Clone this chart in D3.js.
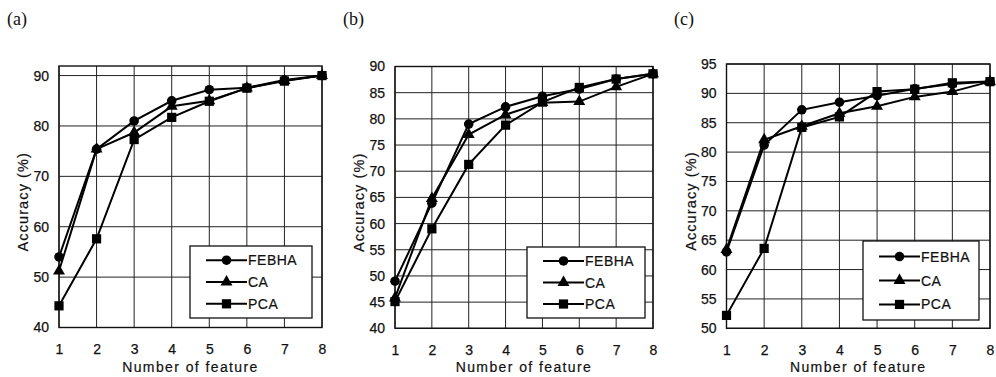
<!DOCTYPE html>
<html>
<head>
<meta charset="utf-8">
<script src="https://cdn.jsdelivr.net/npm/d3@7/dist/d3.min.js"></script>
<style>
  body { margin: 0; background: #fff; }
  svg { display: block; }
  text { font-family: "Liberation Sans", Arial, sans-serif; fill: #111; }
</style>
</head>
<body>
<svg id="chart" width="996" height="377"></svg>
<script>
const features = [1, 2, 3, 4, 5, 6, 7, 8];
const seriesNames = ['FEBHA', 'CA', 'PCA'];

// (a)
const febhaA = [54.0, 75.4, 81.0, 85.0, 87.2, 87.6, 89.1, 90.0];
const caA = [51.2, 75.4, 78.7, 83.9, 85.0, 87.5, 89.0, 90.0];
const pcaA = [44.3, 57.6, 77.3, 81.7, 84.9, 87.5, 88.9, 90.0];
const ticksA = [40, 50, 60, 70, 80, 90];

// (b)
const febhaB = [49.0, 63.9, 79.0, 82.3, 84.3, 85.7, 87.6, 88.6];
const caB = [45.8, 64.8, 77.0, 80.8, 83.1, 83.3, 86.1, 88.6];
const pcaB = [45.1, 59.0, 71.3, 78.8, 83.2, 86.0, 87.6, 88.6];
const ticksB = [40, 45, 50, 55, 60, 65, 70, 75, 80, 85, 90];

// (c)
const febhaC = [63.0, 81.2, 87.2, 88.5, 89.6, 90.8, 91.6, 92.0];
const caC = [63.4, 82.1, 84.4, 86.6, 87.8, 89.4, 90.3, 92.0];
const pcaC = [52.2, 63.6, 84.2, 86.0, 90.3, 90.7, 91.8, 92.0];
const ticksC = [50, 55, 60, 65, 70, 75, 80, 85, 90, 95];

const panels = [
  { label: '(a)', labelX: 7, left: 59, right: 322, top: 66, bottom: 327.5, yDomain: [40, 91.9], ticks: ticksA,
    series: [febhaA, caA, pcaA], legend: { x: 190, y: 246, w: 122, h: 72 } },
  { label: '(b)', labelX: 343, left: 395, right: 653, top: 66.5, bottom: 328.3, yDomain: [40, 90], ticks: ticksB,
    series: [febhaB, caB, pcaB], legend: { x: 527, y: 247, w: 118, h: 71 } },
  { label: '(c)', labelX: 674, left: 726.5, right: 990, top: 64, bottom: 328.3, yDomain: [50, 95], ticks: ticksC,
    series: [febhaC, caC, pcaC], legend: { x: 863, y: 241, w: 116, h: 79 } }
];

const symbols = [d3.symbolCircle, d3.symbolTriangle, d3.symbolSquare];
const symbolSizes = [72, 62, 85];

const svg = d3.select('#chart');
svg.append('rect').attr('width', 996).attr('height', 377).attr('fill', '#fff');

panels.forEach((p) => {
  const x = d3.scaleLinear().domain([1, 8]).range([p.left, p.right]);
  const y = d3.scaleLinear().domain(p.yDomain).range([p.bottom, p.top]);
  const g = svg.append('g');

  // panel label
  g.append('text')
    .attr('x', p.labelX)
    .attr('y', 25)
    .style('font-family', '"Liberation Serif", "Times New Roman", serif')
    .style('font-size', '18px')
    .text(p.label);

  // grid
  g.append('g').selectAll('line')
    .data(p.ticks)
    .enter().append('line')
    .attr('x1', p.left).attr('x2', p.right)
    .attr('y1', (d) => y(d)).attr('y2', (d) => y(d))
    .attr('stroke', '#222').attr('stroke-width', 1);

  g.append('g').selectAll('line')
    .data(features)
    .enter().append('line')
    .attr('x1', (d) => x(d)).attr('x2', (d) => x(d))
    .attr('y1', p.top).attr('y2', p.bottom)
    .attr('stroke', '#222').attr('stroke-width', 1);

  g.append('rect')
    .attr('x', p.left).attr('y', p.top)
    .attr('width', p.right - p.left).attr('height', p.bottom - p.top)
    .attr('fill', 'none').attr('stroke', '#111').attr('stroke-width', 1.4);

  // axes
  const yAxis = d3.axisLeft(y).tickValues(p.ticks).tickSize(0).tickPadding(10);
  const ya = g.append('g').attr('transform', `translate(${p.left},0)`).call(yAxis);
  ya.select('.domain').remove();
  ya.selectAll('text').style('font-size', '14px').attr('fill', '#111')
    .attr('stroke', '#111').attr('stroke-width', 0.25);

  const xAxis = d3.axisBottom(x).tickValues(features).tickFormat(d3.format('d')).tickSize(0).tickPadding(17);
  const xa = g.append('g').attr('transform', `translate(0,${p.bottom})`).call(xAxis);
  xa.select('.domain').remove();
  xa.selectAll('text').style('font-size', '14px').attr('fill', '#111')
    .attr('stroke', '#111').attr('stroke-width', 0.25);

  g.append('text')
    .attr('x', (p.left + p.right) / 2)
    .attr('y', 372)
    .attr('text-anchor', 'middle')
    .style('font-size', '14px')
    .style('letter-spacing', '1.4px')
    .attr('stroke', '#111').attr('stroke-width', 0.2)
    .text('Number of feature');

  g.append('text')
    .attr('transform', `translate(${p.left - 31},${(p.top + p.bottom) / 2 + 5}) rotate(-90)`)
    .attr('text-anchor', 'middle')
    .style('font-size', '14.5px')
    .style('letter-spacing', '1.1px')
    .attr('stroke', '#111').attr('stroke-width', 0.2)
    .text('Accuracy (%)');

  // series
  const line = d3.line().x((d, i) => x(features[i])).y((d) => y(d));
  p.series.forEach((vals, si) => {
    g.append('path')
      .datum(vals)
      .attr('d', line)
      .attr('fill', 'none')
      .attr('stroke', '#000')
      .attr('stroke-width', 2);
    g.append('g').selectAll('path')
      .data(vals)
      .enter().append('path')
      .attr('transform', (d, i) => `translate(${x(features[i])},${y(d)})`)
      .attr('d', d3.symbol().type(symbols[si]).size(symbolSizes[si]))
      .attr('fill', '#000');
  });

  // legend
  const L = p.legend;
  const lg = g.append('g').attr('transform', `translate(${L.x},${L.y})`);
  lg.append('rect')
    .attr('width', L.w).attr('height', L.h)
    .attr('fill', '#fff').attr('stroke', '#111').attr('stroke-width', 1.3);
  const rowStep = L.h / 3.3;
  seriesNames.forEach((name, i) => {
    const ry = L.h / 2 + (i - 1) * rowStep;
    lg.append('line')
      .attr('x1', 16).attr('x2', 57)
      .attr('y1', ry).attr('y2', ry)
      .attr('stroke', '#000').attr('stroke-width', 2);
    lg.append('path')
      .attr('transform', `translate(36.5,${ry})`)
      .attr('d', d3.symbol().type(symbols[i]).size(symbolSizes[i]))
      .attr('fill', '#000');
    lg.append('text')
      .attr('x', 58).attr('y', ry + 5)
      .style('font-size', '14px')
      .style('letter-spacing', '0.5px')
      .attr('stroke', '#111').attr('stroke-width', 0.2)
      .text(name);
  });
});
</script>
</body>
</html>
